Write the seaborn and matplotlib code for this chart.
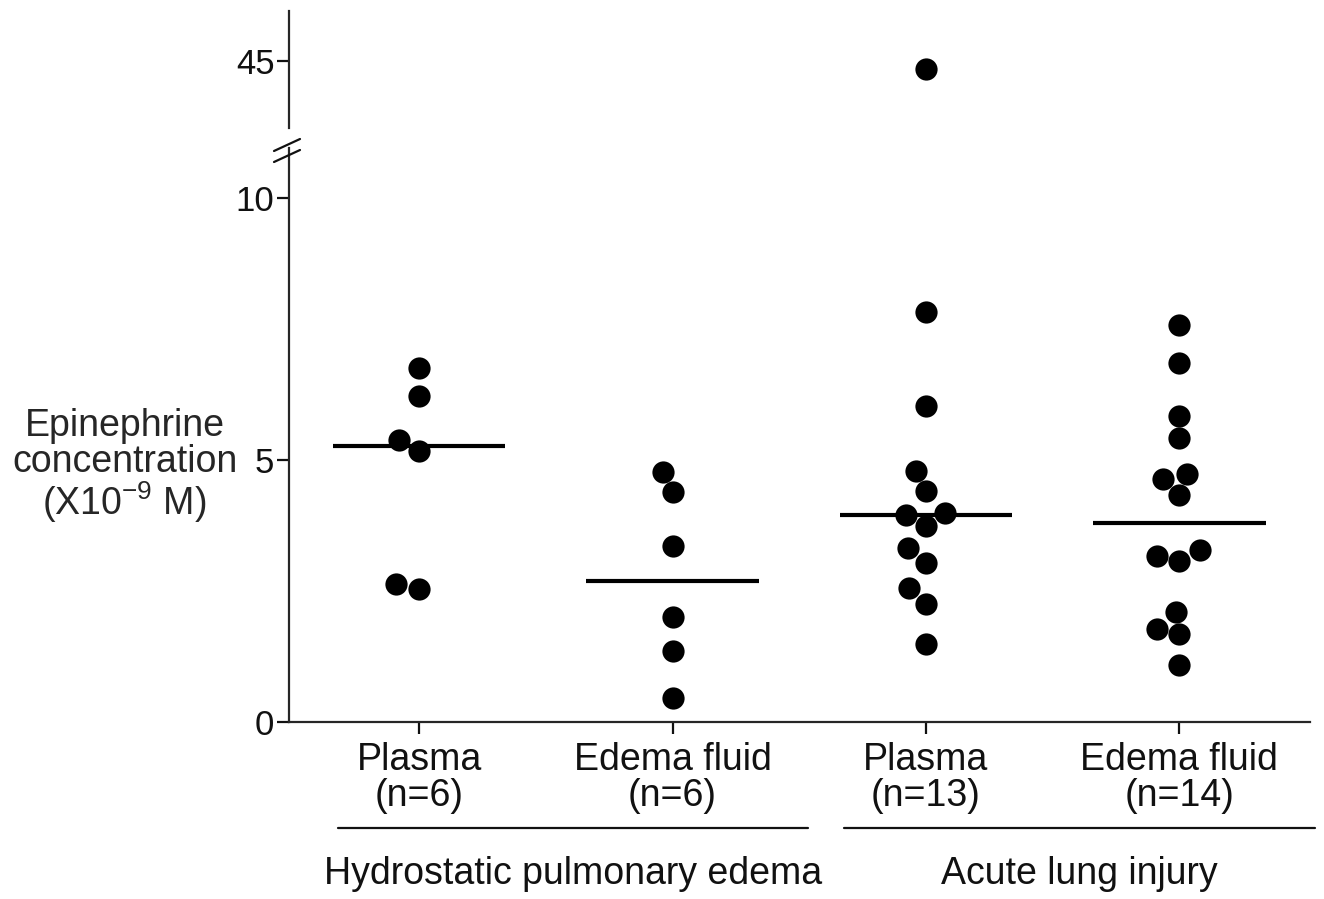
import numpy as np
import pandas as pd
import matplotlib
matplotlib.use("Agg")
import matplotlib.pyplot as plt
import seaborn as sns

# values (x10^-9 M)
hpe_plasma = [6.75, 6.22, 5.38, 5.16, 2.54, 2.63]
hpe_edema = [4.77, 4.38, 3.36, 2.00, 1.36, 0.45]
ali_plasma = [44.85, 7.82, 6.03, 4.78, 4.40, 3.95, 3.98, 3.74, 3.31, 3.03, 2.55, 2.25, 1.49]
ali_edema = [7.58, 6.84, 5.84, 5.41, 4.63, 4.73, 4.33, 3.28, 3.07, 3.17, 2.10, 1.77, 1.68, 1.09]

tick_labels = ["Plasma\n(n=6)", "Edema fluid\n(n=6)", "Plasma\n(n=13)", "Edema fluid\n(n=14)"]
groups = ["Hydrostatic pulmonary edema", "Acute lung injury"]

series = [hpe_plasma, hpe_edema, ali_plasma, ali_edema]
df = pd.DataFrame({
    "cat": np.repeat(tick_labels, [len(s) for s in series]),
    "conc": np.concatenate(series),
})
medians = [np.median(s) for s in series]

sns.set_theme(style="ticks")
plt.rcParams["font.family"] = ["Liberation Sans", "DejaVu Sans"]
plt.rcParams["mathtext.fontset"] = "custom"
plt.rcParams["mathtext.rm"] = "Liberation Sans"
plt.rcParams["text.color"] = "#111111"

fig = plt.figure(figsize=(13.24, 8.99), dpi=100)
ax = fig.add_axes([0.2183, 0.1969, 0.7711, 0.6385])
ax_top = fig.add_axes([0.2183, 0.8576, 0.7711, 0.1302])

for a in (ax, ax_top):
    sns.swarmplot(data=df, x="cat", y="conc", order=tick_labels, color="black",
                  size=16, linewidth=0, ax=a)
    a.hlines(medians, np.arange(4) - 0.34, np.arange(4) + 0.34, color="black",
             linewidth=3.0, zorder=5)
    a.set_xlim(-0.513, 3.515)
    a.set_xlabel("")
    a.set_ylabel("")
    for sp in ("top", "right"):
        a.spines[sp].set_visible(False)
    a.spines["left"].set_linewidth(1.6)
    a.spines["bottom"].set_linewidth(1.6)
    a.tick_params(width=1.6, length=8.5, labelsize=25, colors="#111111", pad=2)

ax.set_ylim(0, 10.95)
ax.set_yticks([0, 5, 10])
ax.set_xticks(range(4))
ax.set_xticklabels(tick_labels, fontsize=27, linespacing=1.0)
ax.tick_params(axis="x", pad=6)

ax_top.set_ylim(43.72, 45.95)
ax_top.set_yticks([45])
ax_top.spines["bottom"].set_visible(False)
ax_top.set_xticks([])

# axis break marks
for dy in (0.0, 11.0):
    fig.add_artist(plt.Line2D([274 / 1324, 300 / 1324],
                              [1 - (151 + dy) / 899, 1 - (139 + dy) / 899],
                              color="#111111", linewidth=1.6))

ax.set_ylabel("Epinephrine\nconcentration\n(X10$\\mathregular{^{-9}}$ M)", rotation=0,
              fontsize=27, ha="center", va="center", multialignment="center",
              linespacing=1.0)
ax.yaxis.set_label_coords(-0.161, 0.445)

# group brackets below the category labels
trans = ax.get_xaxis_transform()
spans = [(-0.32, 1.535), (1.677, 3.535)]
for (x0, x1), name in zip(spans, groups):
    ax.plot([x0, x1], [-0.185, -0.185], color="#111111", linewidth=1.6,
            transform=trans, clip_on=False)
    ax.text((x0 + x1) / 2, -0.265, name, fontsize=27, ha="center", va="center",
            transform=trans)

fig.savefig("out.png", dpi=100, facecolor="white")
